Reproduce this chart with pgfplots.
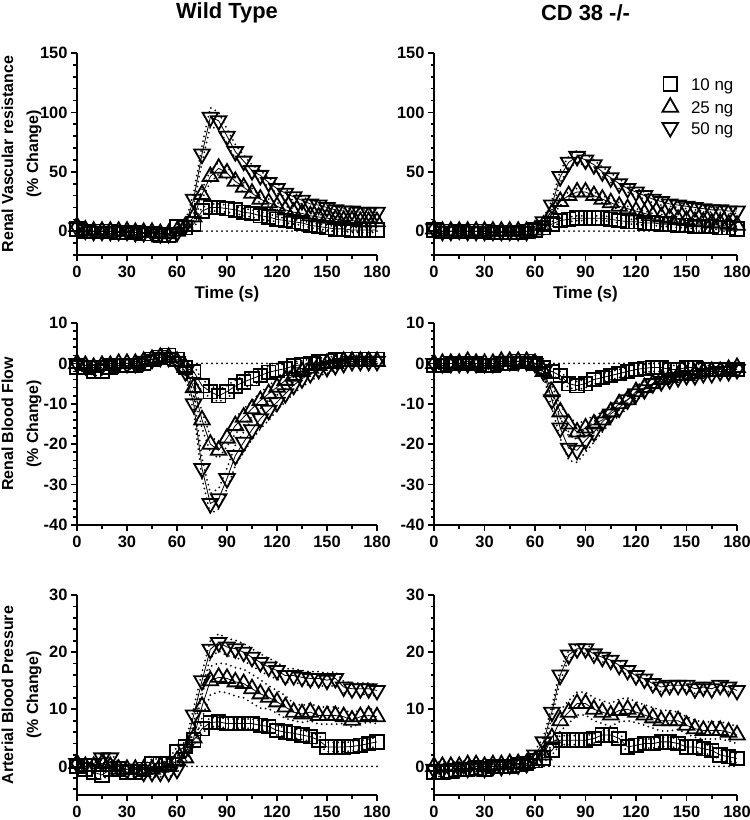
\documentclass[border=0pt]{standalone}
\usepackage{fontspec}
\setmainfont{Liberation Sans}
\usepackage{pgfplots}
\usepackage{pgfplotstable}
\pgfplotsset{compat=1.18}

% columns: t, 10 ng (a, ae), 25 ng (b, be), 50 ng (c, ce)
\pgfplotstableread{
t a ae b be c ce
0 2 2 4 2 3 2
5 0 2 1 2 1 2
10 0 2 0 2 0 2
15 0 2 0 2 0 2
20 0 2 0 2 0 2
25 -1 2 0 2 0 2
30 -1 2 0 2 0 2
35 -1 2 -1 2 -1 2
40 -2 2 -1 2 -1 2
45 -2 2 -1 2 -1 2
50 -3 2 -2 2 -2 2
55 -3 2 -2 2 -2 2
60 4 2 0 2 -1 2
65 3 2 4 2 5 3
70 6 3 12 3 27 5
75 17 3 31 4 65 7
80 20 3 46 5 96 8
85 20 3 53 5 93 7
90 19 3 49 5 80 6
95 18 3 42 4 67 6
100 16 3 37 4 59 5
105 15 3 32 4 51 5
110 13 3 27 3 47 4
115 12 3 24 3 41 4
120 10 2 21 3 36 4
125 9 2 18 3 32 3
130 8 2 16 3 29 3
135 7 2 15 3 26 3
140 5 2 13 2 23 3
145 4 2 12 2 22 3
150 3 2 11 2 20 3
155 2 2 10 2 18 3
160 2 2 9 2 17 2
165 1 2 9 2 17 2
170 1 2 8 2 16 2
175 1 2 8 2 16 2
180 1 2 8 2 16 2
}\tabA

\pgfplotstableread{
t a ae b be c ce
0 1 2 2 2 2 2
5 0 2 0 2 0 2
10 0 2 0 2 0 2
15 0 2 0 2 1 2
20 0 2 0 2 0 2
25 0 2 0 2 0 2
30 0 2 0 2 0 2
35 -1 2 0 2 0 2
40 -1 2 0 2 0 2
45 -1 2 0 2 0 2
50 -1 2 0 2 0 2
55 0 2 0 2 0 2
60 1 2 1 2 2 2
65 3 2 5 2 8 3
70 6 2 15 3 22 4
75 9 2 25 3 46 5
80 10 2 30 3 58 5
85 11 2 33 3 63 5
90 11 2 33 3 60 5
95 11 2 30 3 56 4
100 11 2 27 3 50 4
105 10 2 24 3 45 4
110 9 2 21 3 40 4
115 8 2 19 2 36 3
120 8 2 17 2 33 3
125 7 2 15 2 30 3
130 7 2 13 2 27 3
135 6 2 12 2 25 3
140 6 2 11 2 23 2
145 5 2 10 2 22 2
150 5 2 9 2 21 2
155 4 2 8 2 20 2
160 4 2 8 2 19 2
165 4 2 7 2 18 2
170 3 2 7 2 18 2
175 3 2 6 2 17 2
180 2 2 5 2 17 2
}\tabB

\pgfplotstableread{
t a ae b be c ce
0 -1 1 0 1 0 1
5 -1 1 -0.5 1 -0.5 1
10 -2 1 -1 1 -0.5 1
15 -2 1 -0.5 1 -0.5 1
20 -1 1 -0.5 1 0 1
25 -0.5 1 0 1 0 1
30 -0.5 1 0 1 0 1
35 -0.5 1 0 1 0 1
40 0 1 0.5 1 0.5 1
45 1 1 1 1 1 1
50 1.5 1 1.5 1 1.5 1
55 2 1 1.5 1 1.5 1
60 1 1 0.5 1 0.5 1
65 -1 1 -1 1 -2 1
70 -2 1.5 -6 1.5 -10 2
75 -5.5 1.5 -14 2 -26 2.5
80 -7 1.5 -20 2 -34.7 2.5
85 -8 1.5 -21.5 2 -33.5 2.5
90 -7 1.5 -18.5 2 -28.5 2.5
95 -5.6 1.5 -15.4 2 -22.8 2.5
100 -4.6 1.5 -13.3 2 -19.5 2.5
105 -3.8 1.5 -11.2 2 -16.4 2.5
110 -3 1.5 -9.2 2 -13.7 2.5
115 -2.2 1.5 -7.5 2 -11.6 2.5
120 -1.7 1.5 -5.9 2 -9.6 2
125 -1.3 1 -4.2 2 -7.5 2
130 -0.6 1 -3 1.5 -5.4 2
135 -0.3 1 -2 1.5 -3.8 2
140 0 1 -1.2 1.5 -2.5 2
145 0.3 1 -0.5 1 -1.5 1.5
150 0.5 1 0 1 -1 1.5
155 0.8 1 0 1 -0.5 1
160 1 1 0.5 1 0 1
165 1 1 0.5 1 0.5 1
170 1 1 0.5 1 0.5 1
175 1 1 0.5 1 0.5 1
180 1 1 0.5 1 0.5 1
}\tabC

\pgfplotstableread{
t a ae b be c ce
0 -0.5 1 0 1 0 1
5 -0.5 1 0 1 0 1
10 0 1 0 1 0 1
15 0 1 0 1 0 1
20 0 1 0.5 1 0 1
25 0 1 0 1 0 1
30 -0.5 1 0 1 0 1
35 -0.5 1 0 1 0 1
40 0 1 0.5 1 0.5 1
45 0 1 0.5 1 0.5 1
50 0.5 1 0.5 1 0.5 1
55 0.5 1 0.5 1 0.5 1
60 0 1 0 1 0 1
65 -1 1 -2 1 -2 1
70 -2 1 -7 1.5 -9 2
75 -3 1 -12 1.5 -16 2.5
80 -5 1 -15 2 -21 3
85 -5.5 1 -17 2 -21.5 3
90 -5 1 -16 2 -19 3
95 -4 1 -15 2 -17 2.5
100 -3.5 1 -14 2 -14.5 2.5
105 -3 1 -12 1.5 -12.5 2
110 -2.5 1 -10 1.5 -11 2
115 -2 1 -9 1.5 -9 2
120 -1.5 1 -7 1.5 -7.5 1.5
125 -1.2 1 -6 1.5 -6.5 1.5
130 -1 1 -5 1 -5 1.5
135 -1 1 -4 1 -4.5 1
140 -1.5 1 -3.5 1 -4 1
145 -1.5 1 -3 1 -3.5 1
150 -1 1 -3 1 -3 1
155 -1 1 -2.5 1 -3 1
160 -1.5 1 -2 1 -2.5 1
165 -1.5 1 -2 1 -2.5 1
170 -1.5 1 -2 1 -2 1
175 -1.5 1 -1.5 1 -2 1
180 -1.5 1 -1 1 -1.5 1
}\tabD

\pgfplotstableread{
t a ae b be c ce
0 0 0.8 0.5 0.8 0.5 0.8
5 -0.5 0.8 0 0.8 0.5 0.8
10 -1 0.8 0 0.8 0.5 0.8
15 -1.5 0.8 0.5 0.8 1.5 0.8
20 -0.5 0.8 0 0.8 1.5 0.8
25 -0.5 0.8 -0.5 0.8 0 0.8
30 -1 0.8 -0.5 0.8 -0.5 0.8
35 -1 0.8 -0.5 0.8 -0.5 0.8
40 -0.5 0.8 -0.5 0.8 -1 0.8
45 0.5 0.8 -0.5 0.8 -1 0.8
50 0.5 0.8 0 0.8 -1 0.8
55 0.5 0.8 0 0.8 -1 0.8
60 2.6 0.8 1 0.8 -0.5 0.8
65 3.5 0.8 1.5 0.8 3 1
70 4.6 0.8 5 1.5 9 1.2
75 6.6 0.8 10.5 2 15 1.5
80 7.7 0.8 15 2.5 20.5 1.5
85 7.8 0.8 15.6 2.5 21.7 1.5
90 7.5 0.8 15.4 2.5 20.9 1.5
95 7.5 0.8 14.8 2.5 20.6 1.5
100 7.5 0.8 14.5 2.5 20 1.5
105 7.5 0.8 13.6 2.5 19.1 1.5
110 7.2 0.8 12.7 2.5 18.2 1.5
115 7 0.8 12.1 2 17.4 1.5
120 6.3 0.8 11.3 2 16.8 1.5
125 6 0.8 10.4 2 15.9 1.2
130 5.8 0.8 9.5 1.5 15.9 1.2
135 5.5 0.8 9.2 1.5 15.6 1.2
140 5.2 0.8 9.5 1.5 15.4 1.2
145 4.6 0.8 8.9 1.5 15.4 1.2
150 3.4 0.8 8.9 1.5 15.1 1.2
155 3.4 0.8 8.9 1.5 15.4 1.2
160 3.4 0.8 8.7 1.2 13.9 1
165 3.5 0.8 8.1 1.2 13.6 1
170 3.7 0.8 8.7 1.2 13.6 1
175 4 0.8 8.9 1.2 13.6 1
180 4.3 0.8 8.7 1.2 13.3 1
}\tabE

\pgfplotstableread{
t a ae b be c ce
0 -1 0.8 0 0.8 -0.5 0.8
5 -1 0.8 0 0.8 -0.5 0.8
10 -0.8 0.8 0 0.8 -0.5 0.8
15 -0.5 0.8 0 0.8 -0.3 0.8
20 -0.5 0.8 0.3 0.8 -0.3 0.8
25 -0.3 0.8 0.3 0.8 0 0.8
30 -0.5 0.8 0 0.8 -0.3 0.8
35 0 0.8 0.3 0.8 0 0.8
40 0 0.8 0.3 0.8 0 0.8
45 0 0.8 0.5 0.8 0.3 0.8
50 0.3 0.8 0.5 0.8 0.3 0.8
55 0.5 0.8 0.5 0.8 0.5 0.8
60 1 0.8 1 0.8 2 0.8
65 1.5 0.8 2 1 4.3 0.8
70 2.8 0.8 5 1.5 9.5 1
75 4.6 0.8 8 1.8 16 1
80 4.6 0.8 9.5 2 19.5 0.8
85 4.6 0.8 11 2 20.6 0.8
90 4.6 0.8 11 2 20.6 0.8
95 4.9 0.8 10 2 19.7 0.8
100 5.5 0.8 9.5 2 19.1 0.8
105 5.5 0.8 9 2 18.6 0.8
110 4.9 0.8 9.8 2 17.7 0.8
115 3.4 0.8 10 2 16.8 0.8
120 3.7 0.8 9.5 1.8 15.9 0.8
125 4 0.8 9 1.8 15.3 0.8
130 4 0.8 8.5 1.8 14.5 0.8
135 4.3 0.8 8 1.8 13.9 0.8
140 4.3 0.8 8 1.8 14.2 0.8
145 4 0.8 8 1.5 14.2 0.8
150 3.4 0.8 7.2 1.5 14.2 0.8
155 3.4 0.8 6.6 1.5 13.6 0.8
160 3.1 0.8 6.3 1.5 13.9 0.8
165 2.8 0.8 6.3 1.5 13.6 0.8
170 2 0.8 6.3 1.5 14.2 0.8
175 1.7 0.8 6 1.5 13.9 0.8
180 1.4 0.8 5.5 1.5 13.3 0.8
}\tabF

\pgfplotsset{
  gp/.style={
    scale only axis,
    xmin=0, xmax=180, clip=false,
    axis x line*=bottom, axis y line*=left,
    axis line style={line width=1.8bp, -},
    xtick={0,30,...,180}, minor xtick={15,45,...,165},
    tick align=outside,
    major tick length=6bp, minor tick length=3.5bp,
    major tick style={line width=1.6bp, black},
    minor tick style={line width=1.6bp, black},
    /pgf/number format/assume math mode=true,
    tick label style={font=\fontsize{16.5}{16.5}\selectfont\bfseries},
    xticklabel style={inner sep=1bp, yshift=-4bp},
    ylabel style={at={(axis description cs:-0.185,0.5)}, anchor=center, align=center,
      font=\fontsize{16}{25}\selectfont\bfseries},
    xlabel style={at={(axis description cs:0.5,0)}, anchor=center, yshift=-39bp,
      font=\fontsize{17}{17}\selectfont\bfseries},
    title style={at={(axis description cs:0.5,1)}, anchor=center, yshift=34bp,
      font=\fontsize{22}{22}\selectfont\bfseries},
  },
  sq/.style={black, line width=0.8bp, mark=square, mark size=6.8bp, mark options={solid, line width=1.8bp}},
  tu/.style={black, line width=0.8bp, mark=triangle, mark size=9bp, mark options={solid, line width=1.8bp}},
  td/.style={black, line width=0.8bp, mark=triangle, mark size=9bp, mark options={solid, line width=1.8bp, rotate=180}},
  sem/.style={black, line width=2bp, dash pattern=on 0bp off 5bp, line cap=round, forget plot},
}

\newcommand\zeroline{\addplot[sem] coordinates {(0,0) (180,0)};}
\newcommand\trio[3]{%
  \addplot[sem] table[x=t, y expr=\thisrow{#2}+\thisrow{#2e}] {#1};
  \addplot[sem] table[x=t, y expr=\thisrow{#2}-\thisrow{#2e}] {#1};
  \addplot[#3, forget plot] table[x=t, y=#2] {#1};
}

\begin{document}
\begin{tikzpicture}
\useasboundingbox (0,0) rectangle (750bp,-820bp);

% Row 1
\begin{axis}[gp, at={(77bp,-255bp)}, anchor=south west, width=300bp, height=202bp,
  ymin=-20, ymax=150, ytick={0,50,100,150}, minor ytick={-20,-10,...,150},
  title={Wild Type}, xlabel={Time (s)}, ylabel={Renal Vascular resistance\\(\% Change)}]
\zeroline
\trio{\tabA}{a}{sq}
\trio{\tabA}{b}{tu}
\trio{\tabA}{c}{td}
\end{axis}

\begin{axis}[gp, at={(434bp,-255bp)}, anchor=south west, width=303bp, height=202bp,
  ymin=-20, ymax=150, ytick={0,50,100,150}, minor ytick={-20,-10,...,150},
  title={CD 38 -/-}, xlabel={Time (s)},
  legend image code/.code={\draw[#1] plot coordinates {(0bp,1.5bp)};},
  legend cell align=left,
  legend style={draw=none, fill=none, inner sep=0pt, outer sep=0pt,
    at={(axis description cs:0.754,0.88)}, anchor=north west,
    row sep=5bp, nodes={inner sep=1bp},
    font=\fontsize{17}{17}\selectfont,
    /tikz/every odd column/.append style={column sep=12bp}}]
\zeroline
\trio{\tabB}{a}{sq}
\trio{\tabB}{b}{tu}
\trio{\tabB}{c}{td}
\addlegendimage{sq}\addlegendentry{10 ng}
\addlegendimage{tu}\addlegendentry{25 ng}
\addlegendimage{td}\addlegendentry{50 ng}
\end{axis}

% Row 2
\begin{axis}[gp, at={(77bp,-525bp)}, anchor=south west, width=300bp, height=202bp,
  ymin=-40, ymax=10, ytick={-40,-30,...,10}, minor ytick={-40,-38,...,10},
  ylabel={Renal Blood Flow\\(\% Change)}]
\zeroline
\trio{\tabC}{a}{sq}
\trio{\tabC}{b}{tu}
\trio{\tabC}{c}{td}
\end{axis}

\begin{axis}[gp, at={(434bp,-525bp)}, anchor=south west, width=303bp, height=202bp,
  ymin=-40, ymax=10, ytick={-40,-30,...,10}, minor ytick={-40,-38,...,10}]
\zeroline
\trio{\tabD}{a}{sq}
\trio{\tabD}{b}{tu}
\trio{\tabD}{c}{td}
\end{axis}

% Row 3
\begin{axis}[gp, at={(77bp,-795bp)}, anchor=south west, width=300bp, height=200bp,
  ymin=-5, ymax=30, ytick={0,10,20,30}, minor ytick={-4,-2,...,30},
  ylabel={Arterial Blood Pressure\\(\% Change)}]
\zeroline
\trio{\tabE}{a}{sq}
\trio{\tabE}{b}{tu}
\trio{\tabE}{c}{td}
\end{axis}

\begin{axis}[gp, at={(434bp,-795bp)}, anchor=south west, width=303bp, height=200bp,
  ymin=-5, ymax=30, ytick={0,10,20,30}, minor ytick={-4,-2,...,30}]
\zeroline
\trio{\tabF}{a}{sq}
\trio{\tabF}{b}{tu}
\trio{\tabF}{c}{td}
\end{axis}
\end{tikzpicture}
\end{document}
